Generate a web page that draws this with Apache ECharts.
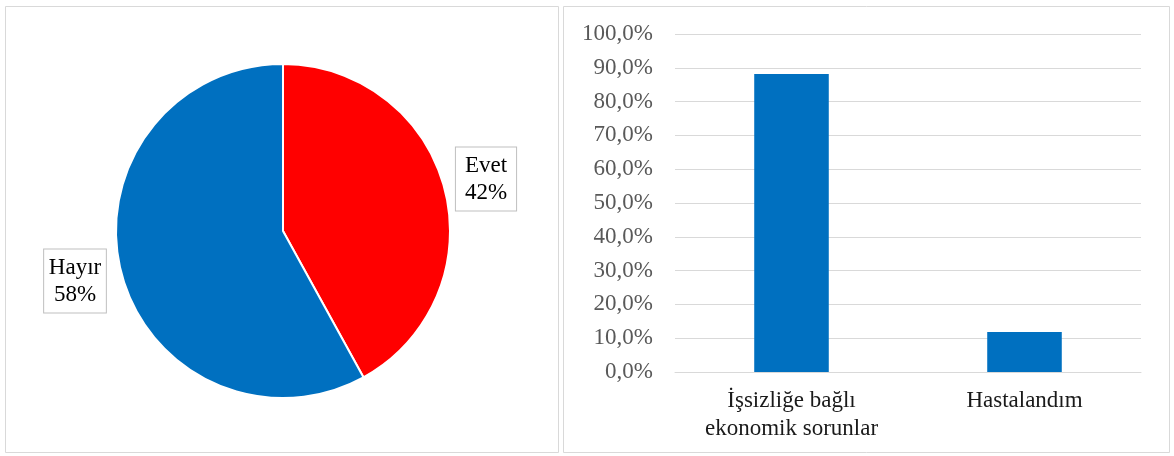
<!DOCTYPE html>
<html>
<head>
<meta charset="utf-8">
<script src="https://cdn.jsdelivr.net/npm/echarts@6/dist/echarts.min.js"></script>
<style>
html,body{margin:0;padding:0;background:#fff;}
#chart{width:1174px;height:456px;}
</style>
</head>
<body>
<div id="chart"></div>
<script>
var pieCategories = ['Evet', 'Hayır'];
var pieValues = [42, 58];
var pieColors = ['#ff0000', '#0070c0'];

var barCategories = ['İşsizliğe bağlı\nekonomik sorunlar', 'Hastalandım'];
var barValues = [88.2, 11.8];

var FONT = '"Liberation Serif", "Times New Roman", serif';

var chart = echarts.init(document.getElementById('chart'));
var labelSpots = [
  {x: 486, y: 179},
  {x: 75, y: 281}
];
var option = {
  backgroundColor: '#fff',
  animation: false,
  graphic: [
    {type: 'rect', shape: {x: 5.5, y: 6.5, width: 553, height: 446}, style: {fill: 'none', stroke: '#d9d9d9', lineWidth: 1}},
    {type: 'rect', shape: {x: 563.5, y: 6.5, width: 606, height: 446}, style: {fill: 'none', stroke: '#d9d9d9', lineWidth: 1}}
  ],
  grid: {left: 675, right: 33, top: 34, bottom: 84},
  xAxis: {
    type: 'category',
    data: barCategories,
    axisTick: {show: false},
    axisLine: {lineStyle: {color: '#d9d9d9', width: 1}},
    axisLabel: {color: '#1a1a1a', fontFamily: FONT, fontSize: 23, lineHeight: 28, margin: 15}
  },
  yAxis: {
    type: 'value',
    min: 0, max: 100, interval: 10,
    axisLine: {show: false},
    axisTick: {show: false},
    splitLine: {lineStyle: {color: '#d9d9d9', width: 1}},
    axisLabel: {
      color: '#595959', fontFamily: FONT, fontSize: 23, margin: 22,
      formatter: function (v) { return v.toFixed(1).replace('.', ',') + '%'; }
    }
  },
  series: [
    {
      type: 'pie',
      center: [283, 231],
      radius: 167,
      startAngle: 90,
      clockwise: true,
      itemStyle: {borderColor: '#fff', borderWidth: 2},
      labelLine: {show: false},
      label: {
        show: true,
        position: 'outside',
        overflow: 'none',
        formatter: '{b}\n{d}%',
        fontFamily: FONT,
        fontSize: 23,
        lineHeight: 27,
        color: '#000',
        backgroundColor: '#fff',
        borderColor: '#bfbfbf',
        borderWidth: 1,
        padding: [5, 9, 4, 9],
        align: 'center'
      },
      labelLayout: function (p) {
        var s = labelSpots[p.dataIndex];
        return {x: s.x, y: s.y, align: 'center', verticalAlign: 'middle'};
      },
      data: pieCategories.map(function (c, i) {
        return {name: c, value: pieValues[i], itemStyle: {color: pieColors[i]}};
      })
    },
    {
      type: 'bar',
      data: barValues,
      barWidth: '32%',
      itemStyle: {color: '#0070c0'}
    }
  ]
};
chart.setOption(option);
</script>
</body>
</html>
